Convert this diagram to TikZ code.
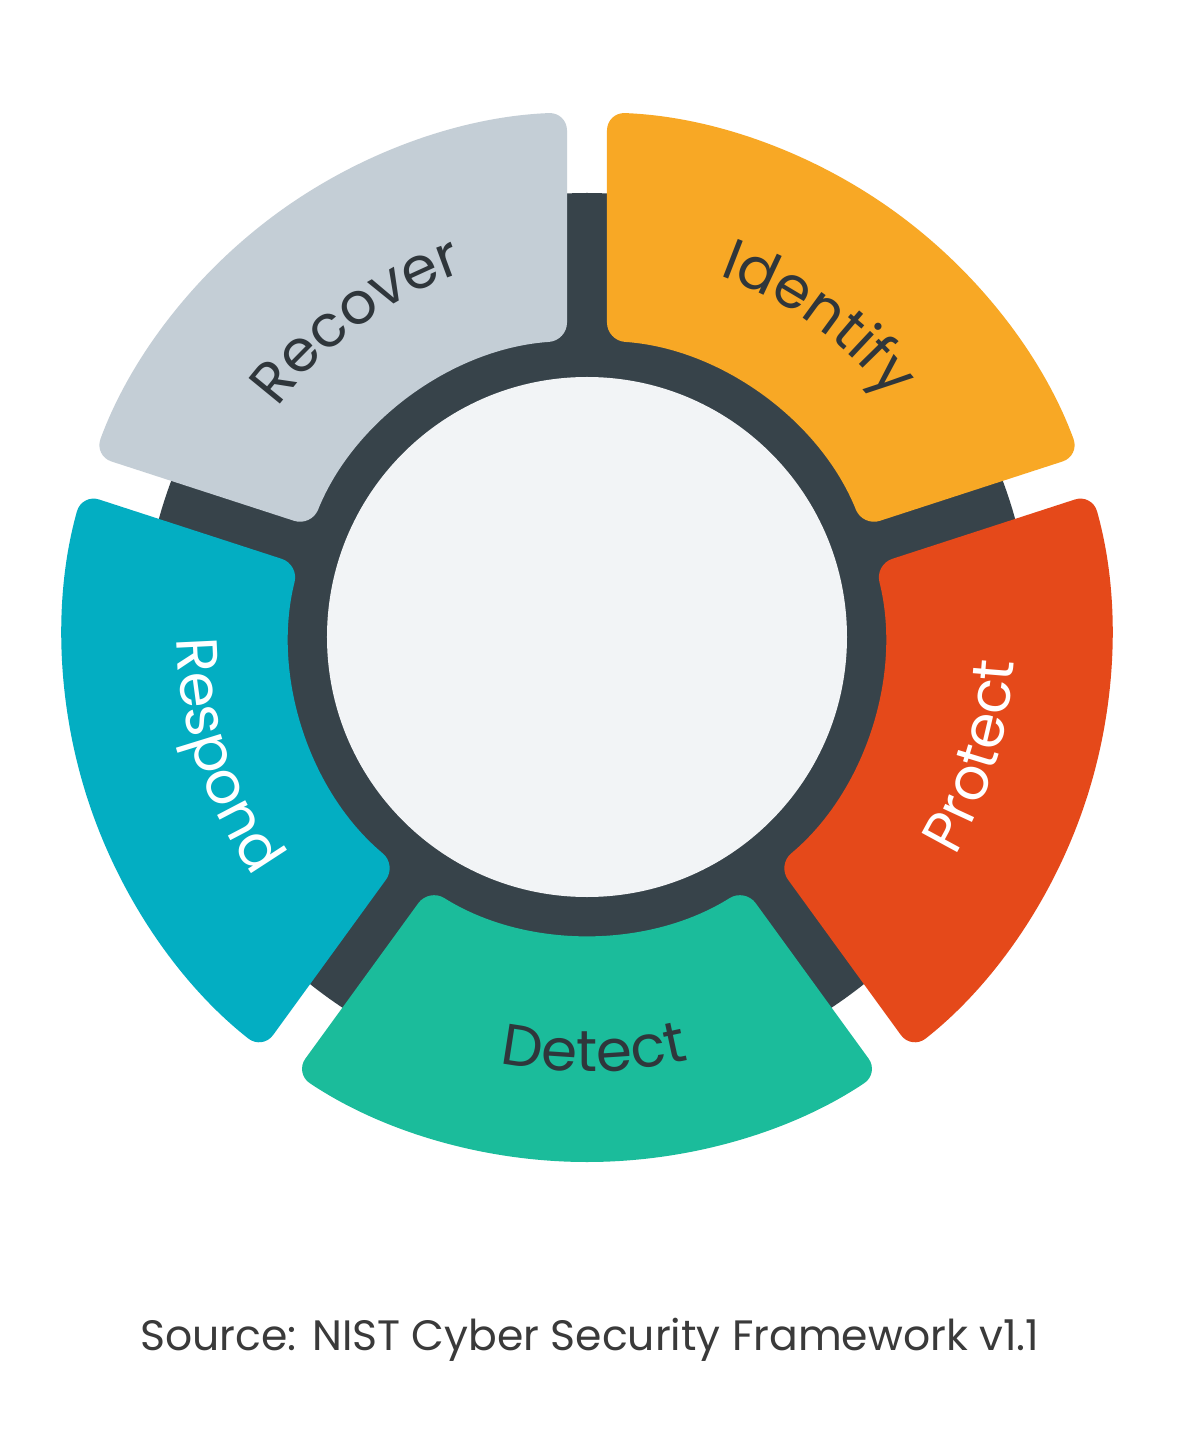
\documentclass[tikz,border=0pt]{standalone}
\usepackage{fontspec}
\setmainfont{Poppins}
\usetikzlibrary{decorations.text}
\definecolor{cIdentify}{HTML}{F8A825}
\definecolor{cProtect}{HTML}{E5491A}
\definecolor{cDetect}{HTML}{1BBC9B}
\definecolor{cRespond}{HTML}{03AEC2}
\definecolor{cRecover}{HTML}{C4CED6}
\definecolor{cDark}{HTML}{37434A}
\definecolor{cInner}{HTML}{F2F4F6}
\definecolor{cLabel}{HTML}{2F363B}
\definecolor{cCaption}{HTML}{3A3A3A}
\newcommand{\cseg}[2]{%
  \pgfmathsetmacro\aA{#1-36+asin(20/297)}%
  \pgfmathsetmacro\aB{#1-36+asin(20/525)}%
  \pgfmathsetmacro\aC{#1+36-asin(20/525)}%
  \pgfmathsetmacro\aD{#1+36-asin(20/297)}%
  \fill[#2, segcorner] (#1:525pt) arc[start angle=#1, end angle=\aC, radius=525pt]
    -- (\aD:297pt) arc[start angle=\aD, end angle=\aA, radius=297pt]
    -- (\aB:525pt) arc[start angle=\aB, end angle=#1, radius=525pt];
}
\newcommand{\cwtext}[4]{%
  \path[decorate, decoration={text along path, text align=center,
    text={|\fontsize{58pt}{60pt}\selectfont\color{#3}|#4}}]
    ({#1+40}:#2pt) arc[start angle={#1+40}, end angle={#1-40}, radius=#2pt];
}
\newcommand{\ccwtext}[4]{%
  \path[decorate, decoration={text along path, text align=center,
    text={|\fontsize{58pt}{60pt}\selectfont\color{#3}|#4}}]
    ({#1-40}:#2pt) arc[start angle={#1-40}, end angle={#1+40}, radius=#2pt];
}
\tikzset{segcorner/.style={rounded corners=18pt}}
\begin{document}
\begin{tikzpicture}[x=1pt,y=1pt]
  \fill[white] (-587,-803) rectangle (593,637);
  \useasboundingbox (-587,-803) rectangle (593,637);
  \fill[cDark] (0,0) circle[radius=444pt];
  \fill[cInner] (0,0) circle[radius=260pt];
  \cseg{54}{cIdentify}
  \cseg{-18}{cProtect}
  \cseg{-90}{cDetect}
  \cseg{-162}{cRespond}
  \cseg{126}{cRecover}
  \cwtext{54}{385}{cLabel}{Identify}
  \cwtext{126}{385}{cLabel}{Recover}
  \ccwtext{-89}{435}{cLabel}{Detect}
  \ccwtext{-17}{428}{white}{Protect}
  \ccwtext{-162}{410}{white}{Respond}
  \node (caption) at (3,-713) [anchor=base, text=cCaption, font=\fontsize{42.5pt}{46pt}\selectfont] {Source: NIST Cyber Security Framework v1.1};
\end{tikzpicture}
\end{document}
